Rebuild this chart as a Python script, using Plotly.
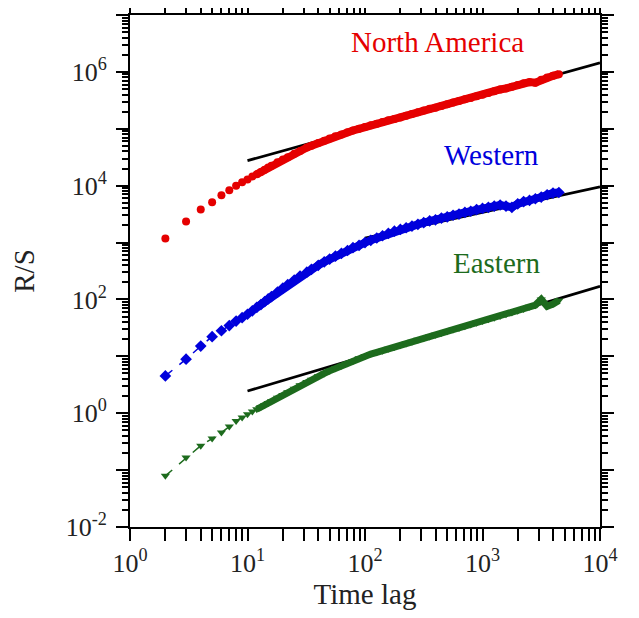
import plotly.graph_objects as go

# ---- data ----
lags = [2, 3, 4, 5, 6, 7, 8, 9, 10, 11, 12, 13, 14, 15, 16, 18, 20, 22, 25, 28,
        32, 35, 40, 45, 50, 56, 63, 71, 79, 89, 100, 112, 126, 141, 158, 178,
        200, 224, 251, 282, 316, 355, 398, 447, 501, 562, 631, 708, 794, 891,
        1000, 1122, 1259, 1413, 1585, 1778, 1995, 2239, 2512, 2818, 3162, 3548,
        3981, 4467]

rs_north_america = [1175, 2344, 3802, 5129, 6761, 8318, 10000, 11480, 12880, 14450,
                    15850, 17380, 19050, 20890, 22390, 25700, 28840, 31620, 36310, 40740,
                    46770, 50120, 56230, 61660, 67610, 74130, 79430, 87100, 93330, 100000,
                    107200, 114800, 123000, 131800, 141300, 147900, 158500, 169800, 182000, 195000,
                    208900, 223900, 234400, 251200, 269200, 288400, 309000, 331100, 346700, 371500,
                    398100, 426600, 457100, 489800, 512900, 549500, 588800, 631000, 660700, 645700,
                    724400, 794300, 851100, 912000]

rs_western = [4.52, 8.91, 15.14, 22.13, 28.18, 34.67, 41.69, 47.86, 54.95, 63.10,
              72.44, 81.28, 91.20, 102.3, 112.2, 134.9, 158.5, 182.0, 218.8, 257.0,
              302.0, 338.8, 398.1, 457.1, 512.9, 575.4, 645.7, 724.4, 812.8, 891.3,
              1000, 1096, 1202, 1318, 1445, 1585, 1698, 1820, 1950, 2089,
              2239, 2399, 2512, 2692, 2818, 3020, 3162, 3388, 3548, 3802,
              3981, 4169, 4365, 4571, 4365, 4169, 4786, 5248, 5495, 5888,
              6310, 6918, 7413, 7586]

rs_eastern = [0.0794, 0.166, 0.269, 0.359, 0.457, 0.582, 0.733, 0.841, 0.955, 1.072,
              1.175, 1.288, 1.396, 1.514, 1.622, 1.862, 2.089, 2.344, 2.692, 3.090,
              3.548, 3.890, 4.467, 5.012, 5.559, 6.166, 6.839, 7.586, 8.318, 9.226,
              10.12, 10.96, 11.75, 12.59, 13.65, 14.62, 15.67, 16.79, 17.99, 19.50,
              20.89, 22.39, 23.99, 25.70, 27.54, 29.51, 31.62, 33.88, 36.31, 38.90,
              41.69, 44.67, 47.86, 51.29, 54.95, 58.88, 63.10, 67.61, 74.13, 79.43,
              100.0, 75.86, 83.18, 95.50]

# fitted power-law lines (end points)
fit_na_x = [10, 10000]
fit_na_y = [27540, 1445000]
fit_we_x = [100, 10000]
fit_we_y = [1202, 9550]
fit_ea_x = [10, 10000]
fit_ea_y = [2.455, 169.8]

labels = ["North America", "Western", "Eastern"]
x_tick_vals = [1, 10, 100, 1000, 10000]
x_tick_text = ["10<sup>0</sup>", "10<sup>1</sup>", "10<sup>2</sup>", "10<sup>3</sup>", "10<sup>4</sup>"]
y_tick_vals = [1e-2, 1e0, 1e2, 1e4, 1e6]
y_tick_text = ["10<sup>-2</sup>", "10<sup>0</sup>", "10<sup>2</sup>", "10<sup>4</sup>", "10<sup>6</sup>"]
y_odd_decades = [1e-1, 1e1, 1e3, 1e5, 1e7]

RED = "#e50000"
BLUE = "#0000dc"
GREEN = "#1d6b1d"
FONT = "Liberation Serif, Times New Roman, serif"
BAND_START = 10  # index of lag 12: from here on the points merge into a band

fig = go.Figure()

# fit lines
for fx, fy in [(fit_na_x, fit_na_y), (fit_we_x, fit_we_y), (fit_ea_x, fit_ea_y)]:
    fig.add_trace(go.Scatter(x=fx, y=fy, mode="lines",
                             line=dict(color="black", width=2.8), showlegend=False,
                             hoverinfo="skip"))

series = [
    (rs_north_america, RED, "circle", 8, None, 8),
    (rs_western, BLUE, "diamond", 9, "dash", 8),
    (rs_eastern, GREEN, "triangle-down", 8, "dash", 7),
]
for (vals, col, sym, size, dash, band_w), name in zip(series, labels):
    # dense band (overlapping symbols)
    fig.add_trace(go.Scatter(x=lags[BAND_START:], y=vals[BAND_START:], mode="lines",
                             line=dict(color=col, width=band_w), showlegend=False,
                             hoverinfo="skip"))
    mode = "lines+markers" if dash else "markers"
    fig.add_trace(go.Scatter(x=lags, y=vals, mode=mode, name=name,
                             line=dict(color=col, width=1.5, dash=dash or "solid"),
                             marker=dict(symbol=sym, size=size, color=col, line=dict(width=0)),
                             showlegend=False))

# axis carrying the unlabeled odd-decade major ticks
fig.add_trace(go.Scatter(x=[], y=[], yaxis="y2", showlegend=False, hoverinfo="skip"))

# minor tick positions (2..9 in each decade)
x_minor = [m * 10 ** d for d in range(0, 4) for m in range(2, 10)]
y_minor = [m * 10.0 ** d for d in range(-2, 7) for m in range(2, 10)]

axis_common = dict(type="log", showgrid=False, zeroline=False, showline=True,
                   linecolor="black", linewidth=2, mirror="allticks", automargin=False,
                   ticks="outside", ticklen=12, tickwidth=2, tickcolor="black",
                   tickfont=dict(family=FONT, size=26, color="#222"))

fig.update_xaxes(**axis_common, range=[0, 4], tickmode="array",
                 tickvals=x_tick_vals, ticktext=x_tick_text,
                 minor=dict(tickmode="array", tickvals=x_minor, ticks="outside",
                            ticklen=6, tickwidth=1.5, tickcolor="black", showgrid=False),
                 title=dict(text="Time lag", font=dict(family=FONT, size=29, color="#222"),
                            standoff=2))
fig.update_layout(
    yaxis=dict(**axis_common, range=[-2, 7], tickmode="array",
               tickvals=y_tick_vals, ticktext=y_tick_text,
               minor=dict(tickmode="array", tickvals=y_minor, ticks="outside",
                          ticklen=6, tickwidth=1.5, tickcolor="black", showgrid=False),
               ticklabelstandoff=4,
               title=dict(text="R/S", font=dict(family=FONT, size=29, color="#222"),
                          standoff=22)),
    yaxis2=dict(type="log", range=[-2, 7], overlaying="y", side="left", anchor="x",
                showgrid=False, zeroline=False, showline=True, linecolor="black",
                linewidth=2, mirror="allticks", automargin=False, ticks="outside",
                ticklen=12, tickwidth=2, tickcolor="black", tickmode="array",
                tickvals=y_odd_decades, showticklabels=False),
)

PLOT_L, PLOT_R, PLOT_T, PLOT_B = 130, 600, 15, 527
ann = [(labels[0], 437, 42, RED), (labels[1], 491, 155, BLUE), (labels[2], 496, 263, GREEN)]
for txt, px, py, col in ann:
    fig.add_annotation(text=txt, xref="paper", yref="paper",
                       x=(px - PLOT_L) / (PLOT_R - PLOT_L), y=(PLOT_B - py) / (PLOT_B - PLOT_T),
                       xanchor="center", yanchor="middle", showarrow=False,
                       font=dict(family=FONT, size=29, color=col))

# the page body adds an 8px offset, so the figure is 8px smaller with shifted margins
fig.update_layout(width=631, height=610, plot_bgcolor="white", paper_bgcolor="white",
                  margin=dict(l=122, r=39, t=7, b=91), showlegend=False)

fig.write_html("out.html")
